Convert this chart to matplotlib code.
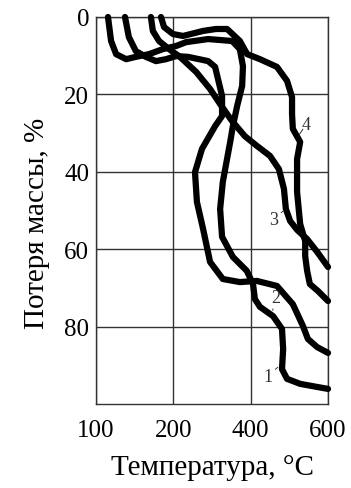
import matplotlib
matplotlib.use("Agg")
import matplotlib.pyplot as plt

plt.rcParams['font.family'] = ['Liberation Serif', 'DejaVu Serif']

# Temperature (axis units) and mass loss (%)
t1 = [31, 39, 52, 78, 103, 137, 173, 207, 233, 290, 352, 372, 380, 378, 365, 354, 347,
      328, 321, 326, 354, 390, 406, 411, 424, 458, 481, 484, 481, 494, 528, 572, 600]
m1 = [0, 6.2, 9.6, 10.9, 10.3, 9.6, 8.3, 7.5, 6.5, 5.7, 6.2, 8.3, 12.7, 17.8, 23.0, 28.2, 32.3,
      42.6, 49.6, 56.8, 62.0, 65.6, 69.0, 72.9, 74.9, 77.3, 80.6, 85.8, 91.0, 93.5, 94.8, 95.6, 96.1]

t2 = [75, 85, 103, 129, 155, 181, 207, 238, 290, 308, 326, 326, 308, 274, 256, 261, 277,
      295, 328, 372, 416, 468, 509, 535, 548, 572, 600]
m2 = [0, 5.2, 8.8, 10.3, 11.4, 10.9, 10.1, 10.3, 11.4, 12.9, 20.4, 25.6, 28.2, 34.1, 40.1, 47.8, 54.8,
      63.3, 67.7, 68.5, 68.2, 69.5, 74.2, 79.8, 83.2, 85.3, 86.8]

t3 = [142, 147, 163, 189, 217, 259, 295, 321, 352, 385, 416, 450, 473, 486, 491, 502, 520,
      546, 572, 600]
m3 = [0, 3.6, 6.2, 8.3, 10.3, 14.2, 18.6, 22.5, 26.9, 30.8, 33.3, 35.9, 39.3, 44.4, 49.6, 52.7, 55.0,
      57.4, 60.7, 64.6]

t4 = [168, 176, 199, 225, 277, 310, 339, 372, 391, 424, 468, 494, 507, 507, 509, 528, 520,
      520, 528, 541, 541, 546, 553, 574, 600]
m4 = [0, 2.6, 4.4, 4.9, 3.6, 3.1, 3.1, 6.2, 9.6, 10.9, 12.9, 16.5, 20.7, 25.1, 28.9, 32.3, 36.7,
      45.2, 53.5, 57.9, 61.8, 65.6, 69.0, 70.8, 73.4]

xticks = [0, 200, 400, 600]
xtick_labels = ['100', '200', '400', '600']
yticks = [0, 20, 40, 60, 80]

# curve labels: text, text position, end of leader line
labels = [('1', (445, 92.8), (470, 90.5)),
          ('2', (464, 72.5), (457, 75.8)),
          ('3', (460, 52.3), (483, 50.2)),
          ('4', (543, 27.8), (525, 30.5))]

fig = plt.figure(figsize=(3.51, 4.89), dpi=100)
ax = fig.add_axes([0.2735, 0.1718, 0.661, 0.7914])

for t, m in [(t1, m1), (t2, m2), (t3, m3), (t4, m4)]:
    ax.plot(t, m, color='black', lw=4.5, solid_capstyle='round', solid_joinstyle='round',
            clip_on=False, zorder=3)

for txt, pos, end in labels:
    ax.annotate(txt, xy=end, xytext=pos, fontsize=13, color='#333333',
                ha='center', va='center',
                arrowprops=dict(arrowstyle='-', color='#333333', lw=0.7, shrinkA=4, shrinkB=0))

ax.set_xlim(0, 600)
ax.set_ylim(100, 0)
ax.set_xticks(xticks)
ax.set_xticklabels(xtick_labels)
ax.set_yticks(yticks)
ax.tick_params(axis='both', length=0, labelsize=18)
ax.tick_params(axis='x', pad=11)
ax.tick_params(axis='y', pad=5)
ax.grid(True, color='#333333', lw=1)
ax.set_axisbelow(True)
for s in ax.spines.values():
    s.set_color('#333333')
    s.set_linewidth(1)

ax.set_xlabel('Температура, °C', fontsize=21, labelpad=9)
ax.set_ylabel('Потеря массы, %', fontsize=21)
ax.yaxis.set_label_coords(-0.20, 0.47)

fig.savefig('out.png', dpi=100)
